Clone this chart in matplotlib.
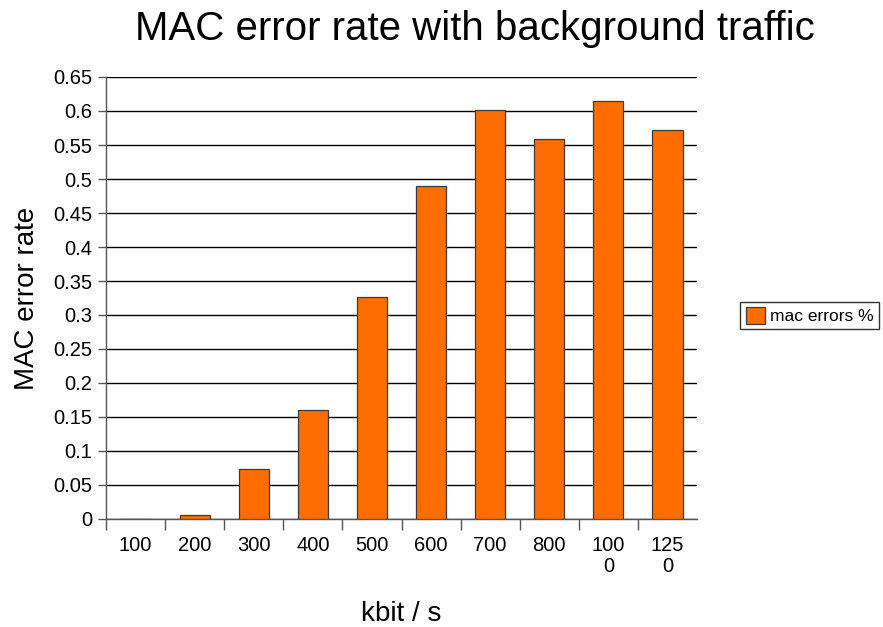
import matplotlib
matplotlib.use("Agg")
import matplotlib.pyplot as plt
import numpy as np

plt.rcParams['font.family'] = ['Liberation Sans', 'DejaVu Sans']

# Background traffic rate (kbit/s) and measured MAC error rate
categories = ["100", "200", "300", "400", "500", "600", "700", "800", "100\n0", "125\n0"]
mac_errors = [0.0, 0.006, 0.074, 0.161, 0.326, 0.489, 0.601, 0.559, 0.615, 0.572]
y_ticks = [0, 0.05, 0.1, 0.15, 0.2, 0.25, 0.3, 0.35, 0.4, 0.45, 0.5, 0.55, 0.6, 0.65]
y_tick_labels = ["0", "0.05", "0.1", "0.15", "0.2", "0.25", "0.3", "0.35",
                 "0.4", "0.45", "0.5", "0.55", "0.6", "0.65"]

W, H = 883, 627
fig = plt.figure(figsize=(W / 100, H / 100), dpi=100)
ax = fig.add_axes([106 / W, 1 - 519 / H, (697 - 106) / W, (519 - 77) / H])

x = np.arange(len(categories))
ax.bar(x, mac_errors, width=0.51, color="#ff6d00", edgecolor="#3a3a3a",
       linewidth=0.9, zorder=3, label="mac errors %")

ax.set_xlim(-0.5, len(categories) - 0.5)
ax.set_ylim(0, 0.65)

# horizontal grid in black
ax.set_yticks(y_ticks)
ax.set_yticklabels(y_tick_labels, fontsize=14.5)
ax.yaxis.grid(True, color="black", linewidth=1.0, zorder=0)
ax.tick_params(axis="y", direction="out", length=6, width=1, color="#555555", pad=4)

# category labels centered, tick marks at category boundaries
ax.set_xticks(x)
ax.set_xticklabels(categories, fontsize=14.5, linespacing=1.15, va="top")
ax.tick_params(axis="x", which="major", length=0, pad=12)
ax.set_xticks(np.arange(-0.5, len(categories) - 1, 1.0), minor=True)
ax.tick_params(axis="x", which="minor", direction="out", length=8, width=1,
               color="#555555")

for side in ("top", "right"):
    ax.spines[side].set_visible(False)
for side in ("left", "bottom"):
    ax.spines[side].set_color("#555555")
    ax.spines[side].set_linewidth(1.0)

ax.set_ylabel("MAC error rate", fontsize=20, labelpad=9)
ax.set_xlabel("kbit / s", fontsize=20, labelpad=18)
fig.text(475 / W, 1 - 29 / H, "MAC error rate with background traffic",
         fontsize=29, ha="center", va="center")

leg = fig.legend(loc="center", bbox_to_anchor=(809.5 / W, 1 - 315.5 / H),
                 fontsize=12.5, frameon=True, fancybox=False, edgecolor="black",
                 handlelength=1.1, handleheight=1.1, handletextpad=0.3,
                 borderpad=0.3, borderaxespad=0)
leg.get_frame().set_linewidth(1.0)

fig.savefig("out.png", dpi=100)
